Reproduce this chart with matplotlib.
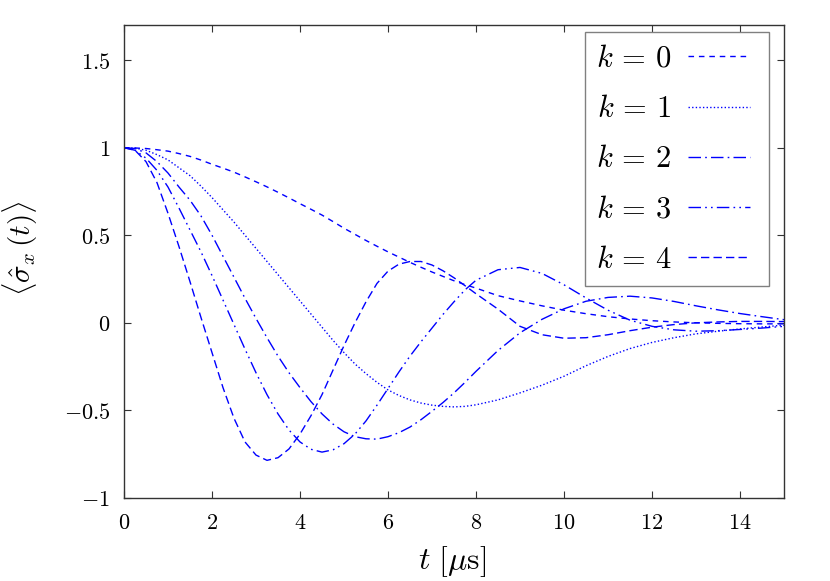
import matplotlib
matplotlib.use("Agg")
import numpy as np
import matplotlib.pyplot as plt
from matplotlib.ticker import FuncFormatter
from matplotlib.legend_handler import HandlerLine2D

plt.rcParams['mathtext.fontset'] = 'cm'
plt.rcParams['font.family'] = ['DejaVu Serif']

t = [0, 0.25, 0.5, 0.75, 1.0, 1.25, 1.5, 1.75, 2.0, 2.25, 2.5, 2.75, 3.0, 3.25,
     3.5, 3.75, 4.0, 4.25, 4.5, 4.75, 5.0, 5.25, 5.5, 5.75, 6.0, 6.25, 6.5, 6.75,
     7.0, 7.25, 7.5, 7.75, 8.0, 8.5, 9.0, 9.5, 10.0, 10.5, 11.0, 11.5, 12.0, 12.5,
     13.0, 13.5, 14.0, 14.5, 15.0]

k0 = [1.0, 0.998, 0.995, 0.988, 0.98, 0.966, 0.95, 0.929, 0.905, 0.883, 0.86, 0.833,
      0.805, 0.776, 0.745, 0.713, 0.68, 0.648, 0.615, 0.578, 0.54, 0.505, 0.47, 0.437,
      0.405, 0.375, 0.345, 0.317, 0.29, 0.265, 0.24, 0.218, 0.198, 0.155, 0.125, 0.097,
      0.072, 0.052, 0.035, 0.022, 0.012, 0.005, 0.0, -0.003, -0.005, -0.006, -0.006]

k1 = [1.0, 0.997, 0.985, 0.96, 0.93, 0.885, 0.84, 0.78, 0.715, 0.645, 0.575, 0.5,
      0.425, 0.35, 0.275, 0.2, 0.125, 0.05, -0.025, -0.1, -0.17, -0.235, -0.29, -0.34,
      -0.383, -0.415, -0.44, -0.458, -0.47, -0.477, -0.48, -0.477, -0.468, -0.44, -0.4, -0.356,
      -0.305, -0.245, -0.192, -0.147, -0.112, -0.085, -0.063, -0.048, -0.035, -0.024, -0.013]

k2 = [1.0, 0.995, 0.97, 0.92, 0.855, 0.775, 0.7, 0.61, 0.5, 0.38, 0.26, 0.14,
      0.025, -0.085, -0.19, -0.285, -0.37, -0.45, -0.52, -0.578, -0.622, -0.65, -0.662, -0.664,
      -0.65, -0.627, -0.595, -0.553, -0.505, -0.455, -0.4, -0.34, -0.277, -0.158, -0.057, 0.02,
      0.08, 0.123, 0.145, 0.152, 0.142, 0.122, 0.097, 0.074, 0.053, 0.035, 0.018]

k3 = [1.0, 0.985, 0.94, 0.87, 0.775, 0.655, 0.53, 0.405, 0.27, 0.13, -0.01, -0.15,
      -0.285, -0.41, -0.52, -0.612, -0.68, -0.722, -0.738, -0.725, -0.69, -0.635, -0.56, -0.47,
      -0.375, -0.28, -0.19, -0.108, -0.03, 0.048, 0.12, 0.188, 0.243, 0.303, 0.316, 0.282,
      0.217, 0.142, 0.072, 0.015, -0.02, -0.04, -0.048, -0.045, -0.038, -0.03, -0.02]

k4 = [1.0, 0.985, 0.92, 0.8, 0.625, 0.435, 0.235, 0.03, -0.17, -0.37, -0.545, -0.68,
      -0.755, -0.785, -0.77, -0.72, -0.635, -0.53, -0.41, -0.27, -0.13, 0.0, 0.12, 0.225,
      0.295, 0.335, 0.35, 0.35, 0.33, 0.297, 0.257, 0.212, 0.166, 0.078, -0.02, -0.068,
      -0.088, -0.085, -0.068, -0.045, -0.025, -0.01, 0.0, 0.005, 0.008, 0.008, 0.007]

series = [k0, k1, k2, k3, k4]
labels = [r'$k\,=\,0$', r'$k\,=\,1$', r'$k\,=\,2$', r'$k\,=\,3$', r'$k\,=\,4$']
styles = [(0, (4.0, 3.5)), (0, (1.0, 1.6)), (0, (9, 3, 1.2, 3)),
          (0, (9, 3, 1.2, 3, 1.2, 3)), (0, (6, 3))]

xticks = [0, 2, 4, 6, 8, 10, 12, 14]
yticks = [-1, -0.5, 0, 0.5, 1, 1.5]


class ShortLineHandler(HandlerLine2D):
    """Legend line that leaves some blank space at its right end."""
    def create_artists(self, legend, orig_handle, xdescent, ydescent, width,
                       height, fontsize, trans):
        arts = super().create_artists(legend, orig_handle, xdescent, ydescent,
                                      width, height, fontsize, trans)
        line = arts[0]
        xd = np.asarray(line.get_xdata(), dtype=float)
        shrink = 5.8
        line.set_xdata(np.linspace(xd[0], xd[-1] - shrink, len(xd)))
        return arts


fig = plt.figure(figsize=(8.3, 5.81), dpi=100)
ax = fig.add_axes([124/830, 83/581, 660/830, 473/581])

lines = []
for y, lab, ls in zip(series, labels, styles):
    ln, = ax.plot(t, y, color='#0000ff', lw=1.0, linestyle=ls, label=lab)
    lines.append(ln)

ax.set_xlim(0, 15)
ax.set_ylim(-1, 1.7)
ax.set_xticks(xticks)
ax.set_yticks(yticks)
fmt = FuncFormatter(lambda v, p: '$%g$' % v)
ax.xaxis.set_major_formatter(fmt)
ax.yaxis.set_major_formatter(fmt)
ax.tick_params(direction='in', top=True, right=True, length=5, width=0.8,
               color='#333333', labelsize=16)
ax.tick_params(axis='x', pad=10)
ax.tick_params(axis='y', pad=10)
for s in ax.spines.values():
    s.set_color('#333333')
    s.set_linewidth(1.0)

ax.set_xlabel(r'$t\ [\mu\mathrm{s}]$', fontsize=23)
ax.xaxis.set_label_coords(0.497, -0.097)
ax.set_ylabel(r'$\langle\hat{\sigma}_x\,(t)\rangle$', fontsize=21)
ax.yaxis.set_label_coords(-0.127, 0.528)

leg = ax.legend(handler_map={ln: ShortLineHandler() for ln in lines},
                loc='upper right', bbox_to_anchor=((769-124)/660, (498-32)/473),
                borderaxespad=0, fontsize=22, markerfirst=False, handlelength=2.29,
                handletextpad=0.55, labelspacing=0.63, borderpad=0.36,
                fancybox=False, framealpha=1, edgecolor='#808080')
leg.get_frame().set_linewidth(1.0)

fig.savefig('out.png', dpi=100)
